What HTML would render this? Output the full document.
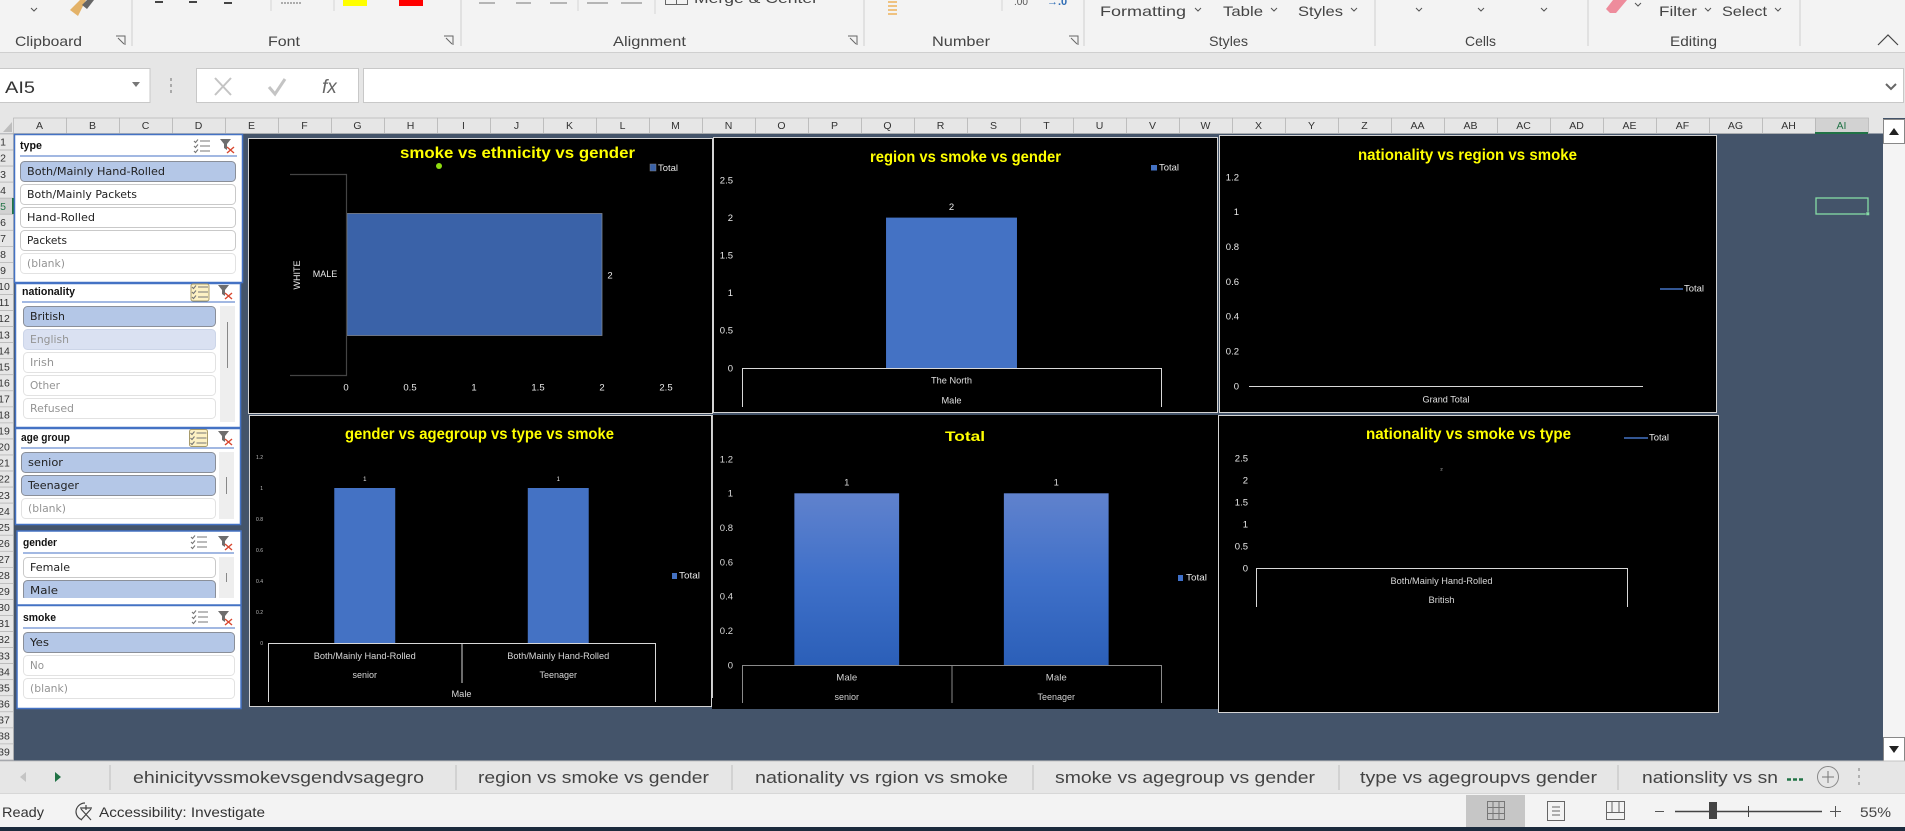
<!DOCTYPE html>
<html lang="en">
<head>
<meta charset="utf-8">
<title>Excel dashboard - smoking charts</title>
<style>
html,body{margin:0;padding:0;background:#44546a;overflow:hidden;width:1905px;height:831px}
svg{display:block}
text{font-family:"Liberation Sans",sans-serif;white-space:pre}
.rb{font-size:14px;fill:#444}
.tab{font-size:17px;fill:#444}
.st{font-family:"DejaVu Sans","Liberation Sans",sans-serif;font-size:10.5px;fill:#222}
.dim{font-family:"DejaVu Sans","Liberation Sans",sans-serif;font-size:10.5px;fill:#949494}
.sl{font-size:11px;font-weight:bold;fill:#111}
.ttl{font-size:15.5px;font-weight:bold;fill:#ffff00}
.lg{font-size:9.5px;fill:#e8e8e8}
.on{fill:#b4c7e7;stroke:#8a8f99}
.off{fill:#fff;stroke:#c9c9c9}
.nil{fill:#fff;stroke:#e2e2e2}
.chev{fill:none;stroke:#555;stroke-width:1}
.ic{fill:none;stroke:#666;stroke-width:1}
</style>
</head>
<body>
<svg id="root" width="1905" height="831" viewBox="0 0 1905 831" xmlns="http://www.w3.org/2000/svg">
<defs>
  <symbol id="multi-icon" viewBox="0 0 16 14" overflow="visible">
    <path d="M0 2l1.5 1.5L4 0.5M0 7l1.5 1.5L4 5.5M0 12l1.5 1.5L4 10.5" fill="none" stroke="#777" stroke-width="1.1"/>
    <path d="M6 2h10M6 7h10M6 12h10" stroke="#777" stroke-width="1.1"/>
  </symbol>
  <symbol id="clear-icon" viewBox="0 0 16 15" overflow="visible">
    <path d="M0 0h11L7 5v6L4 9V5z" fill="#6e6e6e"/>
    <path d="M7 8l7 6M14 8l-7 6" stroke="#d8472f" stroke-width="1.4"/>
  </symbol>
  <linearGradient id="bar-gradient" x1="0" y1="0" x2="0" y2="1">
    <stop offset="0" stop-color="#6082cd"/>
    <stop offset="0.5" stop-color="#3f70c9"/>
    <stop offset="1" stop-color="#2b5fb8"/>
  </linearGradient>
  <clipPath id="gender-clip"><rect x="18" y="555" width="222" height="43"/></clipPath>
</defs>

<!-- sheet background -->
<rect x="0" y="118" width="1905" height="645" fill="#44546a"/>

<!-- ribbon -->
<g>
  <rect x="0" y="0" width="1905" height="52" fill="#f3f3f3"/>
  <rect x="0" y="52" width="1905" height="1" fill="#cfcfcf"/>
  <path d="M132 0v46M461 0v46M864 0v46M1084 0v46M1375 0v46M1588 0v46M1800 0v46" stroke="#cfcfcf"/>
  <path d="M271 0v11M334 0v11M578 0v11M655 0v14M1002 0v11" stroke="#d4d4d4"/>
  <text class="rb" x="15" y="46" textLength="67" lengthAdjust="spacingAndGlyphs">Clipboard</text>
  <text class="rb" x="268" y="46" textLength="32" lengthAdjust="spacingAndGlyphs">Font</text>
  <text class="rb" x="613" y="46" textLength="73" lengthAdjust="spacingAndGlyphs">Alignment</text>
  <text class="rb" x="932" y="46" textLength="58" lengthAdjust="spacingAndGlyphs">Number</text>
  <text class="rb" x="1209" y="46" textLength="39" lengthAdjust="spacingAndGlyphs">Styles</text>
  <text class="rb" x="1465" y="46" textLength="31" lengthAdjust="spacingAndGlyphs">Cells</text>
  <text class="rb" x="1670" y="46" textLength="47" lengthAdjust="spacingAndGlyphs">Editing</text>
  <path class="ic" d="M116 36h9v9M118 38l6 6M449 36h0M444 36h9v9M446 38l6 6M848 36h9v9M850 38l6 6M1069 36h9v9M1071 38l6 6"/>
  <path d="M70 10L80 0H86L78 16z" fill="#e3b268"/>
  <path d="M82 5L87 0H94L87 9z" fill="#666"/>
  <path class="chev" d="M31 8l3 3 3-3"/>
  <path d="M155 2h8M189 2h8M224 3h8" stroke="#444" stroke-width="2"/>
  <path d="M281 3h20" stroke="#666" stroke-dasharray="2 1"/>
  <rect x="343" y="0" width="24" height="6" fill="#ffff00"/>
  <rect x="399" y="0" width="24" height="6" fill="#ff0000"/>
  <path d="M479 3h16M516 3h15M550 3h17M587 3h21M621 3h21" stroke="#777"/>
  <path d="M665.5 0v4.5h22V0M676.5 0v4.5" fill="none" stroke="#666"/>
  <text class="rb" x="694" y="3" font-size="15" textLength="124" lengthAdjust="spacingAndGlyphs">Merge &amp; Center</text>
  <path d="M888 2h9M888 6h9M888 10h9M888 14h9" stroke="#eeb25a" stroke-width="1.6"/>
  <text x="1014" y="5" font-size="10" fill="#555">.00</text>
  <text x="1047" y="5" font-size="11" font-weight="bold" fill="#2f6db5">→.0</text>
  <text class="rb" x="1100" y="16" font-size="15" textLength="86" lengthAdjust="spacingAndGlyphs">Formatting</text>
  <text class="rb" x="1223" y="16" font-size="15" textLength="40" lengthAdjust="spacingAndGlyphs">Table</text>
  <text class="rb" x="1298" y="16" font-size="15" textLength="45" lengthAdjust="spacingAndGlyphs">Styles</text>
  <text class="rb" x="1659" y="16" font-size="15" textLength="38" lengthAdjust="spacingAndGlyphs">Filter</text>
  <text class="rb" x="1722" y="16" font-size="15" textLength="45" lengthAdjust="spacingAndGlyphs">Select</text>
  <path class="chev" d="M1195 8l3 3 3-3M1271 8l3 3 3-3M1351 8l3 3 3-3M1416 8l3 3 3-3M1478 8l3 3 3-3M1541 8l3 3 3-3M1635 3l3 3 3-3M1705 8l3 3 3-3M1775 8l3 3 3-3"/>
  <path d="M1606 9L1613 0H1627L1616 13H1610z" fill="#ee8c9c"/>
  <path d="M1878 45l10-10 10 10" fill="none" stroke="#444" stroke-width="1.2"/>
</g>

<!-- formula bar -->
<g>
  <rect x="0" y="53" width="1905" height="65" fill="#e6e6e6"/>
  <rect x="-1" y="68.500" width="151" height="34" fill="#fff" stroke="#c8c8c8"/>
  <text x="5" y="93" font-size="17" fill="#333" textLength="30" lengthAdjust="spacingAndGlyphs">AI5</text>
  <path d="M132 82h8l-4 5z" fill="#777"/>
  <path d="M171 78v3M171 84v3M171 90v3" stroke="#aaa" stroke-width="2"/>
  <rect x="196.500" y="68.500" width="162" height="34" fill="#fff" stroke="#c8c8c8"/>
  <path d="M215 78l16 17M231 78l-16 17" stroke="#c4c4c4" stroke-width="2"/>
  <path d="M269 87l6 7 10-15" fill="none" stroke="#c4c4c4" stroke-width="3"/>
  <text x="322" y="93" font-family="Liberation Serif" font-size="19" font-style="italic" fill="#666">fx</text>
  <rect x="363.500" y="68.500" width="1540" height="34" fill="#fff" stroke="#c8c8c8"/>
  <path d="M1886 84l5 5 5-5" fill="none" stroke="#666" stroke-width="2"/>
</g>

<!-- headers (filled by script) -->
<g id="col-headers"></g>
<g id="row-headers"></g>

<!-- slicers -->
<g>
  <rect x="14.500" y="134.500" width="228" height="148" fill="#fff" stroke="#4472c4" stroke-width="1.5"/>
  <text class="sl" x="20" y="149" textLength="22" lengthAdjust="spacingAndGlyphs">type</text>
  <path d="M20 156h217" stroke="#4472c4"/>
  <use href="#multi-icon" x="194" y="139" width="16" height="14"/>
  <use href="#clear-icon" x="220" y="139" width="16" height="15"/>
  <g><rect class="on" x="20.500" y="161.500" width="215" height="20" rx="4"/><text class="st" x="27" y="175" textLength="138" lengthAdjust="spacingAndGlyphs">Both/Mainly Hand-Rolled</text></g>
  <g><rect class="off" x="20.500" y="184.500" width="215" height="20" rx="4"/><text class="st" x="27" y="198" textLength="110" lengthAdjust="spacingAndGlyphs">Both/Mainly Packets</text></g>
  <g><rect class="off" x="20.500" y="207.500" width="215" height="20" rx="4"/><text class="st" x="27" y="221" textLength="68" lengthAdjust="spacingAndGlyphs">Hand-Rolled</text></g>
  <g><rect class="off" x="20.500" y="230.500" width="215" height="20" rx="4"/><text class="st" x="27" y="244" textLength="40" lengthAdjust="spacingAndGlyphs">Packets</text></g>
  <g><rect class="nil" x="20.500" y="253.500" width="215" height="20" rx="4"/><text class="dim" x="27" y="267" textLength="38" lengthAdjust="spacingAndGlyphs">(blank)</text></g>
</g>

<g>
  <rect x="15.500" y="283.500" width="225" height="144" fill="#fff" stroke="#4472c4" stroke-width="1.5"/>
  <text class="sl" x="22" y="295" textLength="53" lengthAdjust="spacingAndGlyphs">nationality</text>
  <path d="M22 302h213" stroke="#4472c4"/>
  <rect x="191" y="284" width="18" height="17" rx="2" fill="#fdf1c4" stroke="#a89b6b"/>
  <use href="#multi-icon" x="192" y="285" width="16" height="14"/>
  <use href="#clear-icon" x="218" y="285" width="16" height="15"/>
  <g><rect class="on" x="23.500" y="306.500" width="192" height="20" rx="4"/><text class="st" x="30" y="320" textLength="35" lengthAdjust="spacingAndGlyphs">British</text></g>
  <g><rect x="23.500" y="329.500" width="192" height="20" rx="4" fill="#dae1f2" stroke="#ccd5e8"/><text class="dim" x="30" y="343" textLength="39" lengthAdjust="spacingAndGlyphs">English</text></g>
  <g><rect class="nil" x="23.500" y="352.500" width="192" height="20" rx="4"/><text class="dim" x="30" y="366" textLength="24" lengthAdjust="spacingAndGlyphs">Irish</text></g>
  <g><rect class="nil" x="23.500" y="375.500" width="192" height="20" rx="4"/><text class="dim" x="30" y="389" textLength="30" lengthAdjust="spacingAndGlyphs">Other</text></g>
  <g><rect class="nil" x="23.500" y="398.500" width="192" height="20" rx="4"/><text class="dim" x="30" y="412" textLength="44" lengthAdjust="spacingAndGlyphs">Refused</text></g>
  <rect x="220" y="306" width="15" height="116" fill="#eeeeee"/>
  <path d="M227.500 322v46" stroke="#888"/>
</g>

<g>
  <rect x="15.500" y="428.500" width="225" height="96" fill="#fff" stroke="#4472c4" stroke-width="1.5"/>
  <text class="sl" x="21" y="441" textLength="49" lengthAdjust="spacingAndGlyphs">age group</text>
  <path d="M21 448h213" stroke="#4472c4"/>
  <rect x="189.500" y="429.500" width="18" height="17" rx="2" fill="#fdf1c4" stroke="#a89b6b"/>
  <use href="#multi-icon" x="190.500" y="431" width="16" height="14"/>
  <use href="#clear-icon" x="218" y="431" width="16" height="15"/>
  <g><rect class="on" x="21.500" y="452.500" width="194" height="20" rx="4"/><text class="st" x="28" y="466" textLength="35" lengthAdjust="spacingAndGlyphs">senior</text></g>
  <g><rect class="on" x="21.500" y="475.500" width="194" height="20" rx="4"/><text class="st" x="28" y="489" textLength="51" lengthAdjust="spacingAndGlyphs">Teenager</text></g>
  <g><rect class="nil" x="21.500" y="498.500" width="194" height="20" rx="4"/><text class="dim" x="28" y="512" textLength="38" lengthAdjust="spacingAndGlyphs">(blank)</text></g>
  <rect x="219" y="452" width="15" height="67" fill="#eeeeee"/>
  <path d="M226.500 477v17" stroke="#888"/>
</g>

<g>
  <rect x="17" y="531" width="224" height="74" fill="#fff" stroke="#4472c4" stroke-width="1.500"/>
  <text class="sl" x="23" y="546" textLength="34" lengthAdjust="spacingAndGlyphs">gender</text>
  <path d="M23 553h211" stroke="#4472c4"/>
  <use href="#multi-icon" x="191" y="535" width="16" height="14"/>
  <use href="#clear-icon" x="218" y="536" width="16" height="15"/>
  <g clip-path="url(#gender-clip)">
    <g><rect class="off" x="23.500" y="557.500" width="192" height="20" rx="4"/><text class="st" x="30" y="571" textLength="40" lengthAdjust="spacingAndGlyphs">Female</text></g>
    <g><rect class="on" x="23.500" y="580.500" width="192" height="20" rx="4"/><text class="st" x="30" y="594" textLength="28" lengthAdjust="spacingAndGlyphs">Male</text></g>
  </g>
  <rect x="219" y="557" width="15" height="41" fill="#eeeeee"/>
  <path d="M226.500 573v9" stroke="#888"/>
</g>

<g>
  <rect x="17" y="605.500" width="224" height="103" fill="#fff" stroke="#4472c4" stroke-width="1.500"/>
  <text class="sl" x="23" y="621" textLength="33" lengthAdjust="spacingAndGlyphs">smoke</text>
  <path d="M23 628h212" stroke="#4472c4"/>
  <use href="#multi-icon" x="192" y="610" width="16" height="14"/>
  <use href="#clear-icon" x="218" y="611" width="16" height="15"/>
  <g><rect class="on" x="23.500" y="632.500" width="211" height="20" rx="4"/><text class="st" x="30" y="646" textLength="19" lengthAdjust="spacingAndGlyphs">Yes</text></g>
  <g><rect class="nil" x="23.500" y="655.500" width="211" height="20" rx="4"/><text class="dim" x="30" y="669" textLength="14" lengthAdjust="spacingAndGlyphs">No</text></g>
  <g><rect class="nil" x="23.500" y="678.500" width="211" height="20" rx="4"/><text class="dim" x="30" y="692" textLength="38" lengthAdjust="spacingAndGlyphs">(blank)</text></g>
</g>

<!-- charts -->
<g id="chart-ethnicity">
  <rect x="248.500" y="138.500" width="464" height="275" fill="#000" stroke="#d4d4d4"/>
  <text class="ttl" x="400" y="158" textLength="235" lengthAdjust="spacingAndGlyphs">smoke vs ethnicity vs gender</text>
  <circle cx="439" cy="166" r="3" fill="#8fdc10"/>
  <rect x="650" y="164" width="6" height="7" fill="#3a62a8" stroke="#7f7f7f" stroke-width="0.5"/>
  <text class="lg" x="658" y="171" textLength="20" lengthAdjust="spacingAndGlyphs">Total</text>
</g>
<g id="chart-region">
  <rect x="713.500" y="137.500" width="504" height="275" fill="#000" stroke="#d4d4d4"/>
  <text class="ttl" x="870" y="162" textLength="191" lengthAdjust="spacingAndGlyphs">region vs smoke vs gender</text>
  <rect x="1151" y="165" width="6" height="5.500" fill="#4472c4"/>
  <text class="lg" x="1159" y="170.500" textLength="20" lengthAdjust="spacingAndGlyphs">Total</text>
</g>
<g id="chart-nationality-region">
  <rect x="1219.500" y="135.500" width="497" height="277" fill="#000" stroke="#d4d4d4"/>
  <text class="ttl" x="1358" y="160" textLength="219" lengthAdjust="spacingAndGlyphs">nationality vs region vs smoke</text>
  <path d="M1660 289h23" stroke="#4472c4" stroke-width="1.500"/>
  <text class="lg" x="1684" y="291.500" textLength="20" lengthAdjust="spacingAndGlyphs">Total</text>
</g>
<g id="chart-gender-age">
  <rect x="249.500" y="415.500" width="462" height="291" fill="#000" stroke="#d4d4d4"/>
  <text class="ttl" x="345" y="439" textLength="269" lengthAdjust="spacingAndGlyphs">gender vs agegroup vs type vs smoke</text>
  <rect x="672" y="573" width="5" height="6" fill="#4472c4"/>
  <text class="lg" x="679" y="578.500" textLength="21" lengthAdjust="spacingAndGlyphs">Total</text>
</g>
<g id="chart-total">
  <rect x="712" y="415" width="506" height="294" fill="#000"/>
  <path d="M712.500 415v283" stroke="#c8c8c8"/>
  <text x="945" y="441" font-family="DejaVu Sans" font-size="14" font-weight="bold" fill="#ffff00" textLength="40" lengthAdjust="spacingAndGlyphs">Total</text>
  <rect x="1178" y="575" width="5" height="6" fill="#3f70c9"/>
  <text class="lg" x="1186" y="580.500" textLength="21" lengthAdjust="spacingAndGlyphs" fill="#ddd">Total</text>
</g>
<g id="chart-nationality-type">
  <rect x="1218.500" y="415.500" width="500" height="297" fill="#000" stroke="#d4d4d4"/>
  <text class="ttl" x="1366" y="439" textLength="205" lengthAdjust="spacingAndGlyphs">nationality vs smoke vs type</text>
  <path d="M1624 438h24" stroke="#4472c4" stroke-width="1.500"/>
  <text class="lg" x="1649" y="440.500" textLength="20" lengthAdjust="spacingAndGlyphs">Total</text>
</g>

<!-- selected cell -->
<rect x="1816" y="198" width="52" height="16" fill="none" stroke="#86dba5" stroke-width="1.300"/>
<rect x="1866" y="212" width="3.500" height="3.500" fill="#86dba5" stroke="#44546a" stroke-width="0.500"/>

<!-- vertical scrollbar -->
<g>
  <rect x="1883" y="119" width="22" height="644" fill="#f4f4f4"/>
  <rect x="1883.500" y="119.500" width="21" height="24" fill="#fff" stroke="#888"/>
  <path d="M1889 135l5-7 5 7z" fill="#222"/>
  <rect x="1883.500" y="737.500" width="21" height="24" fill="#fff" stroke="#888"/>
  <path d="M1889 746l5 7 5-7z" fill="#222"/>
</g>

<!-- sheet tabs -->
<g>
  <rect x="0" y="761" width="1905" height="33" fill="#e6e6e6"/>
  <rect x="0" y="760.500" width="1905" height="1" fill="#c4c4c4"/>
  <rect x="0" y="793.500" width="1905" height="1" fill="#c8c8c8"/>
  <path d="M26 772l-6 5 6 5z" fill="#c4c4c4"/>
  <path d="M55 772l6 5-6 5z" fill="#217346"/>
  <path d="M110 765v25M456 765v25M732 765v25M1033 765v25M1339 765v25M1618 765v25" stroke="#bdbdbd"/>
  <text class="tab" x="133" y="783" textLength="291" lengthAdjust="spacingAndGlyphs">ehinicityvssmokevsgendvsagegro</text>
  <text class="tab" x="478" y="783" textLength="231" lengthAdjust="spacingAndGlyphs">region vs smoke vs gender</text>
  <text class="tab" x="755" y="783" textLength="253" lengthAdjust="spacingAndGlyphs">nationality vs rgion vs smoke</text>
  <text class="tab" x="1055" y="783" textLength="260" lengthAdjust="spacingAndGlyphs">smoke vs agegroup vs gender</text>
  <text class="tab" x="1360" y="783" textLength="237" lengthAdjust="spacingAndGlyphs">type vs agegroupvs gender</text>
  <text class="tab" x="1642" y="783" textLength="136" lengthAdjust="spacingAndGlyphs">nationslity vs sn</text>
  <path d="M1787 779.500h4M1793 779.500h4M1799 779.500h4" stroke="#217346" stroke-width="2.500"/>
  <circle cx="1828" cy="777" r="10.500" fill="none" stroke="#888"/>
  <path d="M1822 777h12M1828 771v12" stroke="#777"/>
  <path d="M1859 768v3M1859 775v3M1859 782v3" stroke="#b0b0b0" stroke-width="2"/>
</g>

<!-- status bar -->
<g>
  <rect x="0" y="794" width="1905" height="33" fill="#f3f3f3"/>
  <rect x="0" y="827" width="1905" height="4" fill="#1b2b3d"/>
  <text x="2" y="817" font-size="14" fill="#333" textLength="42" lengthAdjust="spacingAndGlyphs">Ready</text>
  <path d="M85 803a9 9 0 0 0-9 9 9 9 0 0 0 6 8M80 808h12M86 805v5M81 820l10-11M81 809l10 11" fill="none" stroke="#444" stroke-width="1.200"/>
  <text x="99" y="817" font-size="14" fill="#333" textLength="166" lengthAdjust="spacingAndGlyphs">Accessibility: Investigate</text>
  <rect x="1466" y="795" width="59" height="32" fill="#c6c6c6"/>
  <path d="M1487.500 801.500h17v18h-17zM1487.500 807.500h17M1487.500 813.500h17M1493 801.500v18M1499 801.500v18" fill="none" stroke="#777"/>
  <path d="M1547.500 801.500h17v19h-17zM1552 807h8M1552 811h8M1552 815h8" fill="none" stroke="#666"/>
  <path d="M1606.500 801.500h18v18h-18zM1606.500 812.500h18M1612 801.500v11M1619 801.500v11" fill="none" stroke="#666"/>
  <path d="M1655 811.500h9" stroke="#555"/>
  <path d="M1675 811.500h147" stroke="#444" stroke-width="1.500"/>
  <path d="M1748.500 806v11" stroke="#444"/>
  <rect x="1709" y="802" width="8" height="17" fill="#444"/>
  <path d="M1830 811.500h11M1835.500 806v11" stroke="#555"/>
  <text x="1860" y="817" font-size="14" fill="#444" textLength="31" lengthAdjust="spacingAndGlyphs">55%</text>
</g>

<script>
// ---- chart 1: smoke vs ethnicity vs gender
var ethnicityOuter = ['WHITE'];
var ethnicityInner = ['MALE'];
var ethnicityValues = [2];
var ethnicityTicks = [0, 0.5, 1, 1.5, 2, 2.5];
// ---- chart 2: region vs smoke vs gender
var regionCategories = ['The North'];
var regionGroups = ['Male'];
var regionValues = [2];
var regionTicks = [0, 0.5, 1, 1.5, 2, 2.5];
// ---- chart 3: nationality vs region vs smoke
var nationalityRegionCategories = ['Grand Total'];
var nationalityRegionValues = [1];
var nationalityRegionTicks = [0, 0.2, 0.4, 0.6, 0.8, 1, 1.2];
// ---- chart 4: gender vs agegroup vs type vs smoke
var genderAgeTypes = ['Both/Mainly Hand-Rolled', 'Both/Mainly Hand-Rolled'];
var genderAgeGroups = ['senior', 'Teenager'];
var genderAgeGender = ['Male'];
var genderAgeValues = [1, 1];
var genderAgeTicks = [0, 0.2, 0.4, 0.6, 0.8, 1, 1.2];
// ---- chart 5: Total
var totalGenders = ['Male', 'Male'];
var totalAgeGroups = ['senior', 'Teenager'];
var totalValues = [1, 1];
var totalTicks = [0, 0.2, 0.4, 0.6, 0.8, 1, 1.2];
// ---- chart 6: nationality vs smoke vs type
var nationalityTypeTypes = ['Both/Mainly Hand-Rolled'];
var nationalityTypeNationalities = ['British'];
var nationalityTypeValues = [2];
var nationalityTypeTicks = [0, 0.5, 1, 1.5, 2, 2.5];
// ---- grid headers
var columnLetters = ['A','B','C','D','E','F','G','H','I','J','K','L','M','N','O','P','Q','R','S','T','U','V','W','X','Y','Z','AA','AB','AC','AD','AE','AF','AG','AH','AI'];
var rowCount = 39;

var NS = 'http://www.w3.org/2000/svg';
function shape(parent, tag, attrs) {
  var el = document.createElementNS(NS, tag);
  for (var k in attrs) { el.setAttribute(k, attrs[k]); }
  parent.appendChild(el);
  return el;
}
function label(parent, x, y, str, size, fill, anchor, fitWidth) {
  var el = shape(parent, 'text', { x: x, y: y + size * 0.35, 'font-size': size, fill: fill, 'text-anchor': anchor || 'middle' });
  if (fitWidth) { el.setAttribute('textLength', fitWidth); el.setAttribute('lengthAdjust', 'spacingAndGlyphs'); }
  el.textContent = str;
  return el;
}
function linearY(zeroY, perUnit) { return function (v) { return zeroY - v * perUnit; }; }
function linearX(zeroX, perUnit) { return function (v) { return zeroX + v * perUnit; }; }
function bandCenter(left, right, n, i) { return left + (right - left) * (i + 0.5) / n; }

function drawYTicks(g, ticks, y, rightX, size, fill) {
  ticks.forEach(function (t) {
    var el = label(g, rightX, y(t), String(t), size, fill, 'end');
    
    
  });
}
function drawColumns(g, values, y, left, right, widthRatio, fill, stroke) {
  var n = values.length, band = (right - left) / n;
  values.forEach(function (v, i) {
    var c = bandCenter(left, right, n, i), w = band * widthRatio;
    var r = shape(g, 'rect', { x: c - w / 2, y: y(v), width: w, height: y(0) - y(v), fill: fill });
    
    
  });
}
function drawValueLabels(g, values, y, left, right, offset, size, fill) {
  var n = values.length;
  values.forEach(function (v, i) {
    var el = label(g, bandCenter(left, right, n, i), y(v) - offset, String(v), size, fill);
    
    
  });
}
function drawCategoryRow(g, names, left, right, rowY, size, fill, fit) {
  var n = names.length;
  names.forEach(function (s, i) {
    var el = label(g, bandCenter(left, right, n, i), rowY, s, size, fill, 'middle', fit);
    
    
  });
}
function drawBracket(g, left, right, top, bottom, n, dividerBottom, stroke) {
  var d = 'M' + left + ' ' + bottom + 'V' + top + 'H' + right + 'V' + bottom;
  for (var i = 1; i < n; i++) {
    var x = left + (right - left) * i / n;
    d += 'M' + x + ' ' + top + 'V' + dividerBottom;
  }
  var p = shape(g, 'path', { d: d, fill: 'none', stroke: stroke, 'stroke-width': 1 });
  
  
}
function drawSinglePointLine(g, values, y, left, right, stroke) {
  var n = values.length, d = '';
  values.forEach(function (v, i) {
    d += (i ? 'L' : 'M') + bandCenter(left, right, n, i) + ' ' + y(v);
  });
  var p = shape(g, 'path', { d: d, fill: 'none', stroke: stroke, 'stroke-width': 2 });
  
  
}

// headers
(function () {
  var cols = document.getElementById('col-headers');
  var bg = shape(cols, 'rect', { x: 0, y: 118, width: 1883, height: 15.5, fill: '#e6e6e6' });
  
  
  var corner = shape(cols, 'path', { d: 'M3 132L12 122V132z', fill: '#bdbdbd' });
  
  
  columnLetters.forEach(function (c, i) {
    var x = 13 + i * 53;
    var active = c === 'AI';
    var cell = shape(cols, 'rect', { x: x + 0.5, y: 118, width: 53, height: 15.5, fill: active ? '#d2d2d2' : '#e6e6e6', stroke: '#b4b4b4', 'stroke-width': 0.7 });
    
    
    var t = label(cols, x + 26.5, 125.5, c, 10.5, active ? '#217346' : '#333');
    
    
  });
  var under = shape(cols, 'rect', { x: 1815, y: 132, width: 53, height: 2, fill: '#217346' });
  
  

  var rows = document.getElementById('row-headers');
  for (var r = 1; r <= rowCount; r++) {
    var top = 134 + (r - 1) * 16.05;
    var act = r === 5;
    var rc = shape(rows, 'rect', { x: -1, y: top, width: 14.5, height: 16.05, fill: act ? '#d2d2d2' : '#e6e6e6', stroke: '#b4b4b4', 'stroke-width': 0.7 });
    
    
    var rt = label(rows, r < 10 ? 3 : 4, top + 8, String(r), 10.5, act ? '#217346' : '#333');
    
    
  }
  var mk = shape(rows, 'rect', { x: 12, y: 198, width: 2, height: 16, fill: '#217346' });
  
  
})();

// chart 1: horizontal bar
(function () {
  var g = document.getElementById('chart-ethnicity');
  var x = linearX(346, 128);
  ethnicityTicks.forEach(function (t) {
    var el = label(g, x(t), 387, String(t), 9.5, '#e8e8e8');
    
    
  });
  var n = ethnicityValues.length, top = 174, bottom = 375, band = (bottom - top) / n, h = band * 0.607;
  ethnicityValues.forEach(function (v, i) {
    var c = top + band * (i + 0.5);
    var b = shape(g, 'rect', { x: x(0) + 1, y: c - h / 2, width: x(v) - x(0) - 1, height: h, fill: '#3a62a8', stroke: '#7f8692', 'stroke-width': 0.8 });
    
    
    var vl = label(g, x(v) + 8, c + 0.5, String(v), 9.5, '#e8e8e8');
    
    
    var il = label(g, 325, c - 0.5, ethnicityInner[i], 9, '#e8e8e8');
    
    
  });
  var br = shape(g, 'path', { d: 'M290 174.500H346.500V375.500H290', fill: 'none', stroke: '#444', 'stroke-width': 1.2 });
  
  
  var o = label(g, 0, 0, ethnicityOuter[0], 9, '#e8e8e8');
  o.setAttribute('transform', 'translate(297 275) rotate(-90)');
  o.setAttribute('y', 3);
  
  
})();

// chart 2: column
(function () {
  var g = document.getElementById('chart-region');
  var y = linearY(368, 75.2);
  drawYTicks(g, regionTicks, y, 733, 9.5, '#e8e8e8');
  drawColumns(g, regionValues, y, 742, 1161, 0.3125, '#4472c4');
  drawValueLabels(g, regionValues, y, 742, 1161, 11, 9.5, '#e8e8e8');
  drawBracket(g, 742.5, 1161.5, 368.5, 407, 1, 407, '#d8d8d8');
  drawCategoryRow(g, regionCategories, 742, 1161, 380, 9.5, '#e0e0e0', 41);
  drawCategoryRow(g, regionGroups, 742, 1161, 400, 9.5, '#e0e0e0', 20);
})();

// chart 3: line with a single point
(function () {
  var g = document.getElementById('chart-nationality-region');
  var y = linearY(386, 174.2);
  drawYTicks(g, nationalityRegionTicks, y, 1239, 9.5, '#e8e8e8');
  drawSinglePointLine(g, nationalityRegionValues, y, 1249, 1643, '#4472c4');
  var ax = shape(g, 'path', { d: 'M1249 386.500H1643', stroke: '#d8d8d8' });
  
  
  drawCategoryRow(g, nationalityRegionCategories, 1249, 1643, 399, 9.5, '#e0e0e0', 47);
})();

// chart 4: column
(function () {
  var g = document.getElementById('chart-gender-age');
  var y = linearY(643, 155);
  drawYTicks(g, genderAgeTicks, y, 263, 5, '#bdbdbd');
  drawColumns(g, genderAgeValues, y, 268, 655, 0.315, '#4472c4');
  drawValueLabels(g, genderAgeValues, y, 268, 655, 9, 6, '#e8e8e8');
  drawBracket(g, 268.5, 655.5, 643.5, 702, 2, 683, '#d8d8d8');
  drawCategoryRow(g, genderAgeTypes, 268, 655, 656, 9, '#d8d8d8', 102);
  drawCategoryRow(g, genderAgeGroups, 268, 655, 675, 9, '#d8d8d8');
  drawCategoryRow(g, genderAgeGender, 268, 655, 694, 9, '#d8d8d8', 20);
})();

// chart 5: column with gradient
(function () {
  var g = document.getElementById('chart-total');
  var y = linearY(665, 171.7);
  drawYTicks(g, totalTicks, y, 733, 9.5, '#d9d9d9');
  drawColumns(g, totalValues, y, 742, 1161, 0.5, 'url(#bar-gradient)');
  drawValueLabels(g, totalValues, y, 742, 1161, 11, 9.5, '#d9d9d9');
  drawBracket(g, 742.5, 1161.5, 665.5, 703, 2, 703, '#8a8a8a');
  drawCategoryRow(g, totalGenders, 742, 1161, 677, 9.5, '#d0d0d0', 21);
  drawCategoryRow(g, totalAgeGroups, 742, 1161, 697, 9, '#d0d0d0');
})();

// chart 6: line with a single point
(function () {
  var g = document.getElementById('chart-nationality-type');
  var y = linearY(568, 44);
  drawYTicks(g, nationalityTypeTicks, y, 1248, 9.5, '#e8e8e8');
  drawSinglePointLine(g, nationalityTypeValues, y, 1256, 1627, '#4472c4');
  drawValueLabels(g, nationalityTypeValues, y, 1256, 1627, 11, 4, '#e8e8e8');
  drawBracket(g, 1256.5, 1627.5, 568.5, 607, 1, 607, '#d8d8d8');
  drawCategoryRow(g, nationalityTypeTypes, 1256, 1627, 581, 9, '#d8d8d8', 102);
  drawCategoryRow(g, nationalityTypeNationalities, 1256, 1627, 600, 9, '#d8d8d8', 26);
})();
</script>
</svg>
</body>
</html>
